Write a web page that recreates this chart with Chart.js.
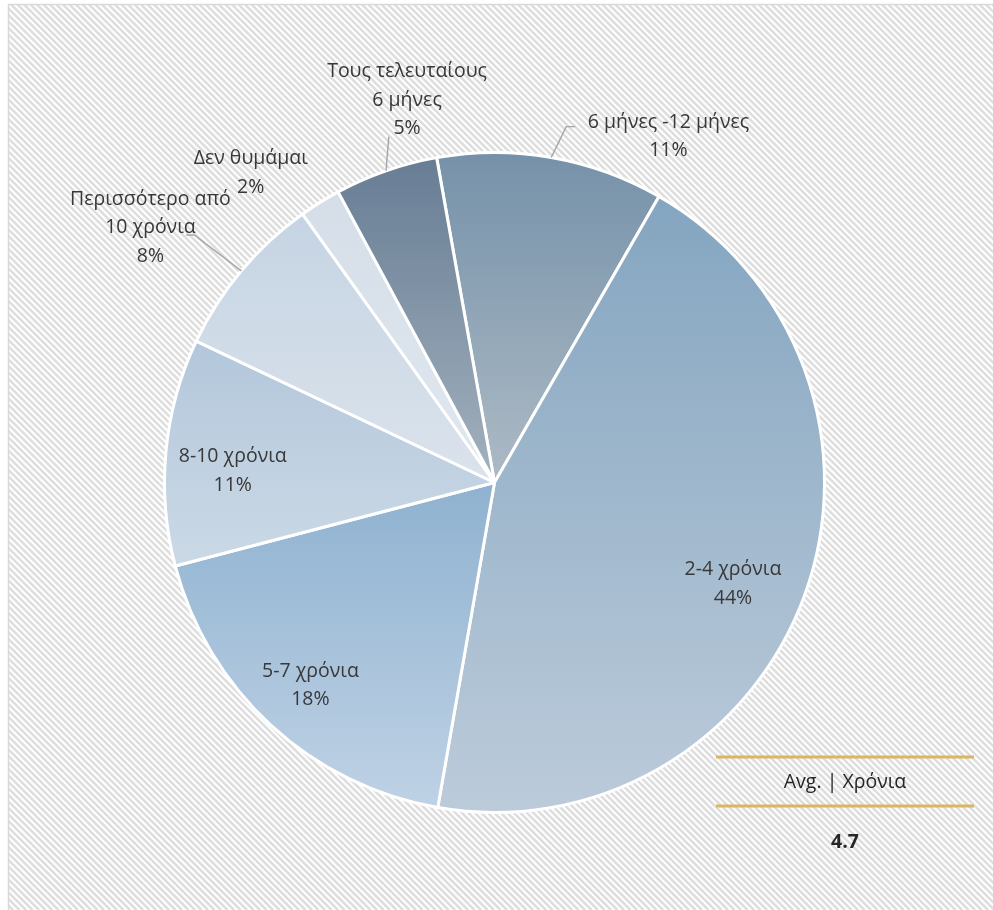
<!DOCTYPE html>
<html>
<head>
<meta charset="utf-8">
<script src="https://cdn.jsdelivr.net/npm/chart.js@4/dist/chart.umd.min.js"></script>
<style>
  html, body { margin: 0; padding: 0; background: #fff; }
  #wrap { width: 993px; height: 910px; }
</style>
</head>
<body>
<div id="wrap"><canvas id="durationChart" width="993" height="910"></canvas></div>
<script>
// categories (clockwise from the top) and their shares in %
const categories = [
  ["6 μήνες -12 μήνες"],
  ["2-4 χρόνια"],
  ["5-7 χρόνια"],
  ["8-10 χρόνια"],
  ["Περισσότερο από", "10 χρόνια"],
  ["Δεν θυμάμαι"],
  ["Τους τελευταίους", "6 μήνες"]
];
const shares = [11, 44, 18, 11, 8, 2, 5];

// average box
const avgTitle = "Avg. | Χρόνια";
const avgValue = "4.7";

// top / bottom gradient colour per slice
const sliceTop = ["#7591a9", "#84a5c0", "#8fb2d0", "#b3c7db", "#c5d4e3", "#d5dee8", "#677d94"];
const sliceBottom = ["#adbac5", "#bccbda", "#bfd2e5", "#cbd9e6", "#dbe3ec", "#e0e7ef", "#a3b1be"];

// label placement relative to the slice middle: angle shift (deg), radius factor
const labelPos = [
  { da: 16.8, r: 1.173, leader: { da: 1.5, r: 1.10, tail: 9 } },
  { da: 3.1, r: 0.785 },
  { da: -0.4, r: 0.83 },
  { da: -2.8, r: 0.794 },
  { da: -3.4, r: 1.297, leader: { da: -0.4, r: 1.179, tail: -8 } },
  { da: -6.3, r: 1.194 },
  { da: 6.3, r: 1.188, leader: { da: 2.2, r: 1.096, tail: 0 } }
];

const ROTATION = -10.1;
const FONT = '"Open Sans", "DejaVu Sans", sans-serif';
const FONT_SIZE = 19.5;

// vertical gradient over the bounding box of one slice
function sliceGradient(ctx, chart, i) {
  const area = chart.chartArea;
  if (!area) return sliceTop[i];
  const cx = (area.left + area.right) / 2;
  const cy = (area.top + area.bottom) / 2;
  const r = Math.min(area.right - area.left, area.bottom - area.top) / 2;
  const total = shares.reduce((a, b) => a + b, 0);
  let before = 0;
  for (let k = 0; k < i; k++) before += shares[k];
  const a0 = (ROTATION - 90) * Math.PI / 180 + before / total * Math.PI * 2;
  const a1 = a0 + shares[i] / total * Math.PI * 2;
  const ys = [cy, cy + Math.sin(a0) * r, cy + Math.sin(a1) * r];
  for (let q = -4; q <= 4; q++) {
    const a = q * Math.PI / 2 + Math.PI / 2;
    if (a > a0 && a < a1) ys.push(cy + Math.sin(a) * r);
    const b = q * Math.PI / 2 - Math.PI / 2;
    if (b > a0 && b < a1) ys.push(cy + Math.sin(b) * r);
  }
  const g = ctx.createLinearGradient(0, Math.min(...ys), 0, Math.max(...ys));
  g.addColorStop(0, sliceTop[i]);
  g.addColorStop(1, sliceBottom[i]);
  return g;
}

// hatched backdrop with a thin frame on the left and top
const backdrop = {
  id: "backdrop",
  beforeDraw(chart) {
    const { ctx, width, height } = chart;
    ctx.save();
    ctx.fillStyle = "#fff";
    ctx.fillRect(0, 0, width, height);
    ctx.beginPath();
    ctx.rect(8, 4, width - 8, height - 4);
    ctx.clip();
    ctx.strokeStyle = "#dedede";
    ctx.lineWidth = 2.6;
    for (let x = -height; x < width + height; x += 6.5) {
      ctx.beginPath();
      ctx.moveTo(x, 0);
      ctx.lineTo(x + height, height);
      ctx.stroke();
    }
    ctx.restore();
    ctx.save();
    ctx.strokeStyle = "#d9d9d9";
    ctx.lineWidth = 1.5;
    ctx.beginPath();
    ctx.moveTo(8.5, height);
    ctx.lineTo(8.5, 4.5);
    ctx.lineTo(width, 4.5);
    ctx.stroke();
    ctx.restore();
  }
};

// slice labels with leader lines for the small outer ones
const sliceLabels = {
  id: "sliceLabels",
  afterDatasetsDraw(chart) {
    const { ctx } = chart;
    const arcs = chart.getDatasetMeta(0).data;
    ctx.save();
    ctx.font = FONT_SIZE + "px " + FONT;
    ctx.fillStyle = "#383838";
    ctx.textAlign = "center";
    ctx.textBaseline = "middle";
    const lineH = 28.5;
    arcs.forEach((arc, i) => {
      const { x, y, startAngle, endAngle, outerRadius } = arc.getProps(["x", "y", "startAngle", "endAngle", "outerRadius"], true);
      const mid = (startAngle + endAngle) / 2;
      const p = labelPos[i];
      const a = mid + p.da * Math.PI / 180;
      const lx = x + Math.cos(a) * outerRadius * p.r;
      const ly = y + Math.sin(a) * outerRadius * p.r;
      const lines = categories[i].concat([shares[i] + "%"]);
      const top = ly - (lines.length - 1) * lineH / 2;
      lines.forEach((t, k) => ctx.fillText(t, lx, top + k * lineH));

      if (p.leader) {
        const ea = mid + p.leader.da * Math.PI / 180;
        const ex = x + Math.cos(ea) * outerRadius * p.leader.r;
        const ey = y + Math.sin(ea) * outerRadius * p.leader.r;
        ctx.save();
        ctx.strokeStyle = "#a6a6a6";
        ctx.lineWidth = 1.4;
        ctx.beginPath();
        ctx.moveTo(x + Math.cos(mid) * outerRadius, y + Math.sin(mid) * outerRadius);
        ctx.lineTo(ex, ey);
        if (p.leader.tail) ctx.lineTo(ex + p.leader.tail, ey);
        ctx.stroke();
        ctx.restore();
      }
    });
    ctx.restore();
  }
};

// average box in the lower right corner
const avgBox = {
  id: "avgBox",
  afterDraw(chart) {
    const { ctx } = chart;
    ctx.save();
    ctx.strokeStyle = "#dab660";
    ctx.lineWidth = 3;
    ctx.beginPath();
    ctx.moveTo(716, 757);
    ctx.lineTo(974, 757);
    ctx.moveTo(716, 806);
    ctx.lineTo(974, 806);
    ctx.stroke();
    ctx.fillStyle = "#262626";
    ctx.textAlign = "center";
    ctx.textBaseline = "middle";
    ctx.font = FONT_SIZE + "px " + FONT;
    ctx.fillText(avgTitle, 845, 782);
    ctx.font = "bold " + FONT_SIZE + "px " + FONT;
    ctx.fillText(avgValue, 845, 842);
    ctx.restore();
  }
};

new Chart(document.getElementById("durationChart"), {
  type: "pie",
  data: {
    labels: categories.map(c => c.join(" ")),
    datasets: [{
      data: shares,
      backgroundColor: c => sliceGradient(c.chart.ctx, c.chart, c.dataIndex),
      borderColor: "#ffffff",
      borderWidth: 3
    }]
  },
  options: {
    responsive: false,
    animation: false,
    rotation: ROTATION,
    layout: { padding: { left: 163, right: 167, top: 151, bottom: 96 } },
    plugins: {
      legend: { display: false },
      tooltip: { enabled: false }
    }
  },
  plugins: [backdrop, sliceLabels, avgBox]
});
</script>
</body>
</html>
